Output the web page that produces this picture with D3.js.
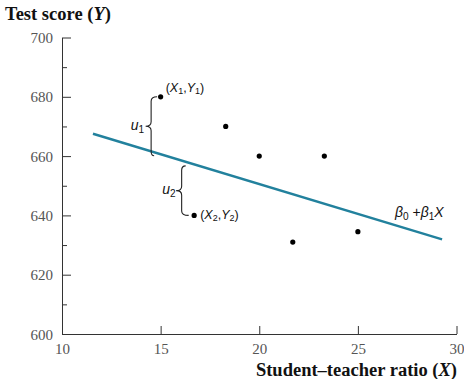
<!DOCTYPE html>
<html><head><meta charset="utf-8">
<script src="https://cdn.jsdelivr.net/npm/d3@7"></script>
<style>
html,body{margin:0;padding:0;background:#fff;}
svg{display:block;}
</style></head>
<body>
<svg id="chart" width="464" height="379"></svg>
<script>
// ---- data ----
const pointsX = [15, 18.3, 20, 23.3, 21.7, 25, 16.7];
const pointsY = [680, 670, 660, 660, 631, 634.5, 640];
const xTicks = [10, 15, 20, 25, 30];
const yTicks = [600, 620, 640, 660, 680, 700];
const yMinorTicks = [610, 630, 650, 670, 690];
const beta0 = 690.8, beta1 = -2.011;
const fitRangeX = [11.57, 29.27];
const obs1 = 0, obs2 = 6; // indices of (X1,Y1) and (X2,Y2)

const svg = d3.select("#chart");
const x = d3.scaleLinear().domain([10, 30]).range([62, 456.5]);
const y = d3.scaleLinear().domain([600, 700]).range([334, 37.5]);
const fit = v => beta0 + beta1 * v;
const axisColor = "#333";
const serif = "Liberation Serif, DejaVu Serif, serif";

// y axis
const gy = svg.append("g").attr("transform", `translate(${x(10)},0)`)
  .call(d3.axisLeft(y).tickValues(yTicks).tickSizeInner(-9).tickSizeOuter(0).tickPadding(9));
const gyMinor = svg.append("g").attr("transform", `translate(${x(10)},0)`)
  .call(d3.axisLeft(y).tickValues(yMinorTicks).tickSizeInner(-5).tickSizeOuter(0).tickFormat(""));
gyMinor.select(".domain").remove();
// x axis
const gx = svg.append("g").attr("transform", `translate(0,${y(600)})`)
  .call(d3.axisBottom(x).tickValues(xTicks).tickSizeInner(-8).tickSizeOuter(0).tickPadding(6));
[gy, gyMinor, gx].forEach(g => {
  g.attr("font-family", serif).attr("font-size", 15);
  g.selectAll("path,line").attr("stroke", axisColor).attr("stroke-width", 1);
  g.selectAll(".tick text").attr("fill", "#555").style("font-family", serif).style("font-size", "15px");
});
gy.selectAll(".tick text").attr("dy", "0.34em");
gx.selectAll(".tick text").attr("dy", "0.95em");

// axis titles
const title = svg.append("text").attr("x", 5).attr("y", 20)
  .attr("font-family", serif).attr("font-weight", "bold")
  .attr("font-size", 18.5).attr("fill", "#111");
title.append("tspan").text("Test score (");
title.append("tspan").attr("font-style", "italic").text("Y");
title.append("tspan").text(")");

const xt = svg.append("text").attr("x", 457).attr("y", 376).attr("text-anchor", "end")
  .attr("font-family", serif).attr("font-weight", "bold")
  .attr("font-size", 18.5).attr("fill", "#111");
xt.append("tspan").text("Student–teacher ratio (");
xt.append("tspan").attr("font-style", "italic").text("X");
xt.append("tspan").text(")");

// regression line
svg.append("line")
  .attr("x1", x(fitRangeX[0])).attr("y1", y(fit(fitRangeX[0])))
  .attr("x2", x(fitRangeX[1])).attr("y2", y(fit(fitRangeX[1])))
  .attr("stroke", "#22819d").attr("stroke-width", 2.4);

// braces
function brace(bx, y1, y2, hook1, hook2) {
  const r = 4.5, tip = 5.5, ym = (y1 + y2) / 2;
  return `M${bx + hook1},${y1} Q${bx},${y1} ${bx},${y1 + r} L${bx},${ym - r} ` +
         `Q${bx},${ym} ${bx - tip},${ym} Q${bx},${ym} ${bx},${ym + r} ` +
         `L${bx},${y2 - r} Q${bx},${y2} ${bx + hook2},${y2}`;
}
const p1x = x(pointsX[obs1]), p1y = y(pointsY[obs1]);
const p2x = x(pointsX[obs2]), p2y = y(pointsY[obs2]);
const b1x = p1x - 9.5;
svg.append("path").attr("d", brace(b1x, p1y, y(fit(pointsX[obs1])) + 1.5, 6, 3))
  .attr("fill", "none").attr("stroke", "#222").attr("stroke-width", 1.1);
const b2x = p2x - 12.5;
svg.append("path").attr("d", brace(b2x, y(fit(pointsX[obs2])) + 1.5, p2y, 4, 7))
  .attr("fill", "none").attr("stroke", "#222").attr("stroke-width", 1.1);

// points
svg.append("g").selectAll("circle").data(pointsX.map((d, i) => [d, pointsY[i]]))
  .join("circle").attr("cx", d => x(d[0])).attr("cy", d => y(d[1])).attr("r", 2.6).attr("fill", "#000");

// annotation labels
const af = "Liberation Sans, Arial, sans-serif";
function label(tx, ty, parts, anchor, size) {
  const fs = size || 13;
  const t = svg.append("text").attr("x", tx).attr("y", ty)
    .attr("font-family", af).attr("font-size", fs).attr("fill", "#111")
    .attr("text-anchor", anchor || "start");
  parts.forEach(p => {
    const s = t.append("tspan").text(p.t);
    if (p.i) s.attr("font-style", "italic");
    if (p.sub) s.attr("font-size", fs * 0.72).attr("baseline-shift", "-25%");
  });
  return t;
}
label(p1x + 5, p1y - 5, [{t:"("},{t:"X",i:1},{t:"1",sub:1},{t:","},{t:"Y",i:1},{t:"1",sub:1},{t:")"}], "start", 12.5);
label(p2x + 6, p2y + 4, [{t:"("},{t:"X",i:1},{t:"2",sub:1},{t:","},{t:"Y",i:1},{t:"2",sub:1},{t:")"}], "start", 12.5);
label(b1x - 7, (p1y + y(fit(pointsX[obs1]))) / 2 + 4, [{t:"u",i:1},{t:"1",sub:1}], "end", 14);
label(b2x - 6, (p2y + y(fit(pointsX[obs2]))) / 2 + 4, [{t:"u",i:1},{t:"2",sub:1}], "end", 14);
label(395, 217, [{t:"β",i:1},{t:"0",sub:1},{t:" +"},{t:"β",i:1},{t:"1",sub:1},{t:"X",i:1}], "start", 14);
</script>
</body></html>
